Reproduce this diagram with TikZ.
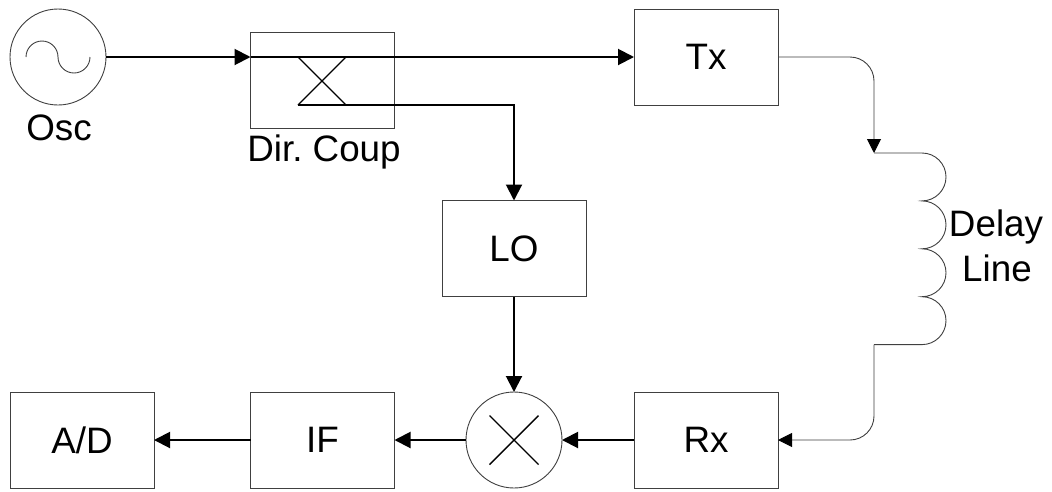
\documentclass[tikz,border=0pt]{standalone}
\usepackage{fontspec}
\setmainfont{Liberation Sans}
\usetikzlibrary{arrows.meta}
\tikzset{
  x=1pt,y=-1pt,
  thinline/.style={draw=black!75,line width=0.9pt},
  signal/.style={draw=black,line width=2pt},
  blockbox/.style={thinline,rectangle,minimum width=144pt,minimum height=96pt,inner sep=0pt,outer sep=0pt,font=\fontsize{36.8}{42}\selectfont},
  roundel/.style={thinline,circle,minimum size=96pt,inner sep=0pt,outer sep=0pt},
  caption/.style={anchor=base,inner sep=0pt,font=\fontsize{36.8}{42}\selectfont\frenchspacing},
  bighead/.style={-{Triangle[length=16pt,width=16pt]}},
  smallhead/.style={-{Triangle[length=14pt,width=14pt,color=black]}},
}
\begin{document}
\begin{tikzpicture}
\useasboundingbox (0,0) rectangle (1052,491);
\fill[white] (0,0) rectangle (1052,491);
% blocks
\node[roundel] (osc) at (58,57) {};
\node[blockbox] (dc) at (322.5,80.5) {};
\node[blockbox] (tx) at (706,57) {Tx};
\node[blockbox] (lo) at (514,248.5) {LO};
\node[roundel] (mix) at (514,440) {};
\node[blockbox] (rx) at (706,440) {Rx};
\node[blockbox] (if) at (322.5,440) {IF};
\node[blockbox] (ad) at (82,440) {A/D};
% captions
\node[caption] (osclabel) at (59,140) {Osc};
\node[caption] (dclabel) at (324,161.5) {Dir. Coup};
\node[caption] (delaylabel) at (996,236.5) {Delay};
\node[caption] (linelabel) at (997,281) {Line};
% oscillator squiggle
\draw[thinline] (26,57) arc[start angle=180,end angle=360,radius=16]
                arc[start angle=180,end angle=0,radius=16];
% mixer cross
\draw[signal,line width=1.4pt] (489.5,415.5) -- (538.5,464.5);
\draw[signal,line width=1.4pt] (489.5,464.5) -- (538.5,415.5);
% coupler
\coordinate (dcin) at (250.5,57);
\coordinate (xtl) at (298,57);
\coordinate (xtr) at (346,57);
\coordinate (xbl) at (298,105);
\coordinate (xbr) at (346,105);
\coordinate (cturn) at (514,105);
\draw[signal,line width=1.4pt] (xtl) -- (xbr);
\draw[signal,line width=1.4pt] (xtr) -- (xbl);
% signal connectors
\draw[signal,bighead] (osc.east) -- (dcin);
\draw[signal,bighead] (dcin) -- (tx.west);
\draw[signal,bighead] (xbl) -- (cturn) -- (lo.north);
\draw[signal,bighead] (lo.south) -- (mix.north);
\draw[signal,bighead] (rx.west) -- (mix.east);
\draw[signal,bighead] (mix.west) -- (if.east);
\draw[signal,bighead] (if.west) -- (ad.east);
% delay line
\coordinate (txturn) at (874,57);
\coordinate (coilin) at (874,153);
\coordinate (coiltop) at (922,153);
\coordinate (coilout) at (874,344.6);
\coordinate (rxturn) at (874,440);
\draw[thinline,smallhead,rounded corners=24pt] (tx.east) -- (txturn) -- (coilin);
\draw[thinline] (coilin) -- (coiltop)
  arc[start angle=-90,end angle=90,x radius=24,y radius=23.95]
  arc[start angle=-90,end angle=90,x radius=24,y radius=23.95]
  arc[start angle=-90,end angle=90,x radius=24,y radius=23.95]
  arc[start angle=-90,end angle=90,x radius=24,y radius=23.95]
  -- (coilout);
\draw[thinline,smallhead,rounded corners=24pt] (coilout) -- (rxturn) -- (rx.east);
\end{tikzpicture}
\end{document}
